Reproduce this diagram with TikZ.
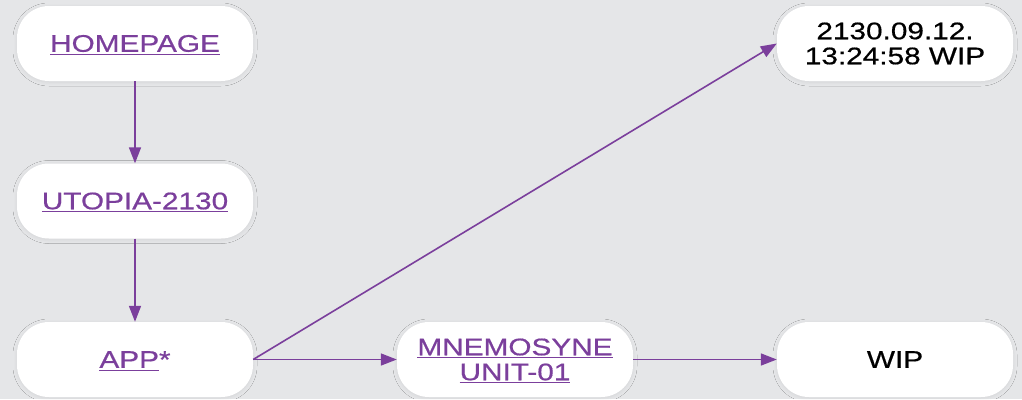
\documentclass[tikz,border=0pt]{standalone}
\usepackage{fontspec}
\setmainfont{Liberation Sans}[FakeStretch=1.24,FakeBold=0.6]
\usetikzlibrary{arrows.meta,shadows.blur}
\definecolor{bg}{HTML}{E5E6E8}
\definecolor{purp}{HTML}{7B3F9C}
\newcommand{\ul}[1]{\setbox0\hbox{#1}\rlap{\smash{\rule[-3.2pt]{\wd0}{1.2pt}}}\box0}
\tikzset{
  box/.style={fill=white, rounded corners=32pt, minimum width=236pt, minimum height=75pt,
    inner sep=0pt, align=center, font=\fontsize{24}{25}\selectfont,
    blur shadow={shadow blur steps=10, shadow xshift=0pt, shadow yshift=-1pt, shadow opacity=7, shadow blur radius=4pt}},
  lnk/.style={text=purp},
  conn/.style={draw=purp, line width=1.6pt, -{Triangle[length=16pt,width=12pt]}}
}
\begin{document}
\begin{tikzpicture}[x=1pt,y=-1pt]
\fill[bg] (0,0) rectangle (1022,399);
\useasboundingbox (0,0) rectangle (1022,399);
\node[box,lnk] (home) at (135,43.5) {\ul{HOMEPAGE}};
\node[box,lnk] (utopia) at (135,201) {\ul{UTOPIA-2130}};
\node[box] (app) at (135,359.5) {\textcolor{purp}{\ul{APP}*}};
\node[box,lnk] (mnem) at (515,359.5) {\ul{MNEMOSYNE}\\\ul{UNIT-01}};
\node[box] (ts) at (895,43.5) {2130.09.12.\\13:24:58 WIP};
\node[box] (wip) at (895,359.5) {WIP};
\draw[conn] (home) -- (utopia);
\draw[conn] (utopia) -- (app);
\draw[conn] (app.east) -- (mnem.west);
\draw[conn] (app.east) -- (ts.west);
\draw[conn] (mnem.east) -- (wip.west);
\end{tikzpicture}
\end{document}
